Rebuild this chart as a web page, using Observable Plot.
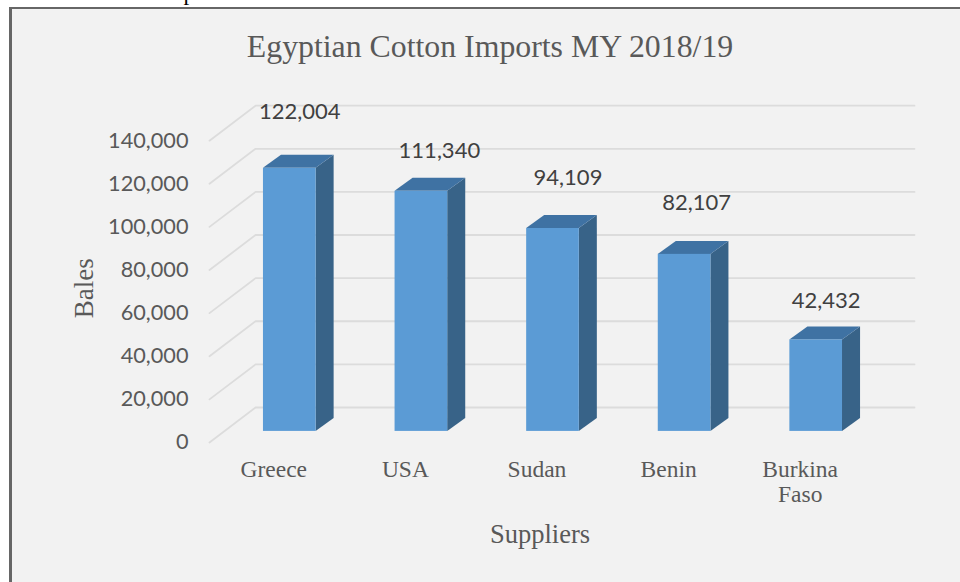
<!DOCTYPE html>
<html>
<head>
<meta charset="utf-8">
<script src="https://cdn.jsdelivr.net/npm/d3@7"></script>
<script src="https://cdn.jsdelivr.net/npm/@observablehq/plot@0.6"></script>
<style>
  html, body { margin: 0; padding: 0; background: #fff; width: 960px; height: 582px; overflow: hidden; }
  #page { position: relative; width: 960px; height: 582px; overflow: hidden; }
  #lead { position: absolute; left: 0; top: -20px; font: 23px "Liberation Serif", serif; color: #000; white-space: nowrap; word-spacing: 8px; }
  #panel { position: absolute; left: 9px; top: 7px; width: 951px; height: 575px; box-sizing: border-box;
           background: #f2f2f2; border-left: 3px solid #666; border-top: 2px solid #666; }
  #title { position: absolute; left: 0; width: 980px; top: 29px; margin: 0; text-align: center;
           font: 400 31.8px "Liberation Serif", serif; color: #595959; }
  #chart { position: absolute; left: 0; top: 0; }
  #chart svg { background: transparent; }
</style>
</head>
<body>
<div id="page">
  <div id="lead">Annual Cotton Imports in MY 2018/19</div>
  <div id="panel"></div>
  <h1 id="title">Egyptian Cotton Imports MY 2018/19</h1>
  <div id="chart"></div>
</div>
<script>
// Cotton imports by supplier, in bales
const suppliers = ["Greece", "USA", "Sudan", "Benin", "Burkina\nFaso"];
const bales = [122004, 111340, 94109, 82107, 42432];
const yTicks = [0, 20000, 40000, 60000, 80000, 100000, 120000, 140000];

// Hand-placed offsets of the value labels, in pixels
const labelDx = [10, 18, 15, 12, 10];
const labelDy = [-56, -40, -51, -51, -39];

// Extrusion of the bars and of the chart walls, in scale units
const barHalf = 0.2;
const barDepth = { x: 0.137, y: 6030 };
const wallFront = { x: -0.61, y: -5148 };
const wallDepth = { x: 0.35, y: 16234 };
const rightEdge = 4.747;

const rows = bales.map((v, i) => ({ i, v, name: suppliers[i] }));

// Each gridline runs along the side wall, then across the back wall
const gridLines = yTicks.flatMap((t) => [
  { t, x: wallFront.x, y: t + wallFront.y },
  { t, x: wallFront.x + wallDepth.x, y: t + wallFront.y + wallDepth.y },
  { t, x: rightEdge, y: t + wallFront.y + wallDepth.y }
]);

// Right-hand face of each bar, as a band between its base and top edges
const sideFaces = rows.flatMap((d) => [
  { i: d.i, x: d.i + barHalf, y1: 0, y2: d.v },
  { i: d.i, x: d.i + barHalf + barDepth.x, y1: barDepth.y, y2: d.v + barDepth.y }
]);

// Top face of each bar, as a band between its left and right edges
const topFaces = rows.flatMap((d) => [
  { i: d.i, y: d.v, x1: d.i - barHalf, x2: d.i + barHalf },
  { i: d.i, y: d.v + barDepth.y, x1: d.i - barHalf + barDepth.x, x2: d.i + barHalf + barDepth.x }
]);

const chart = Plot.plot({
  width: 960,
  height: 582,
  marginLeft: 209,
  marginRight: 46,
  marginTop: 105.4,
  marginBottom: 140,
  style: { background: "transparent", overflow: "visible" },
  x: { type: "linear", domain: [wallFront.x, rightEdge] },
  y: { type: "linear", domain: [wallFront.y, wallFront.y + 156122] },
  marks: [
    Plot.line(gridLines, { x: "x", y: "y", z: "t", stroke: "#dcdcdc", strokeWidth: 1.8, curve: "linear" }),
    Plot.axisY({
      ticks: yTicks,
      tickFormat: d3.format(","),
      tickSize: 0,
      tickPadding: 21,
      dy: 11,
      fontSize: 21.7,
      fontFamily: "Lato",
      color: "#595959",
      label: null
    }),
    Plot.axisX({
      ticks: rows.map((d) => d.i),
      tickFormat: (i) => suppliers[i],
      tickSize: 0,
      tickPadding: 16,
      dx: -16,
      fontSize: 23.5,
      lineHeight: 1.08,
      fontFamily: "Liberation Serif",
      color: "#595959",
      label: null
    }),
    Plot.area(sideFaces, { x1: "x", y1: "y1", y2: "y2", z: "i", fill: "#386388", curve: "linear" }),
    Plot.area(topFaces, { y1: "y", x1: "x1", x2: "x2", z: "i", fill: "#3f72a3", curve: "linear" }),
    Plot.rect(rows, { x1: (d) => d.i - barHalf, x2: (d) => d.i + barHalf, y1: 0, y2: "v", fill: "#5b9bd5" }),
    ...rows.map((d, k) =>
      Plot.text([d], {
        x: "i",
        y: "v",
        text: (r) => d3.format(",")(r.v),
        dx: labelDx[k],
        dy: labelDy[k],
        fontSize: 22,
        fontFamily: "Lato",
        fill: "#404040"
      })
    ),
    Plot.text(["Bales"], { frameAnchor: "left", text: (s) => s, dx: -125, dy: 44, rotate: -90, fontSize: 27, fontFamily: "Liberation Serif", fill: "#595959" }),
    Plot.text(["Suppliers"], { frameAnchor: "bottom", text: (s) => s, dx: -22, dy: 100, fontSize: 26.5, fontFamily: "Liberation Serif", fill: "#595959" })
  ]
});
document.getElementById("chart").appendChild(chart);
</script>
</body>
</html>
